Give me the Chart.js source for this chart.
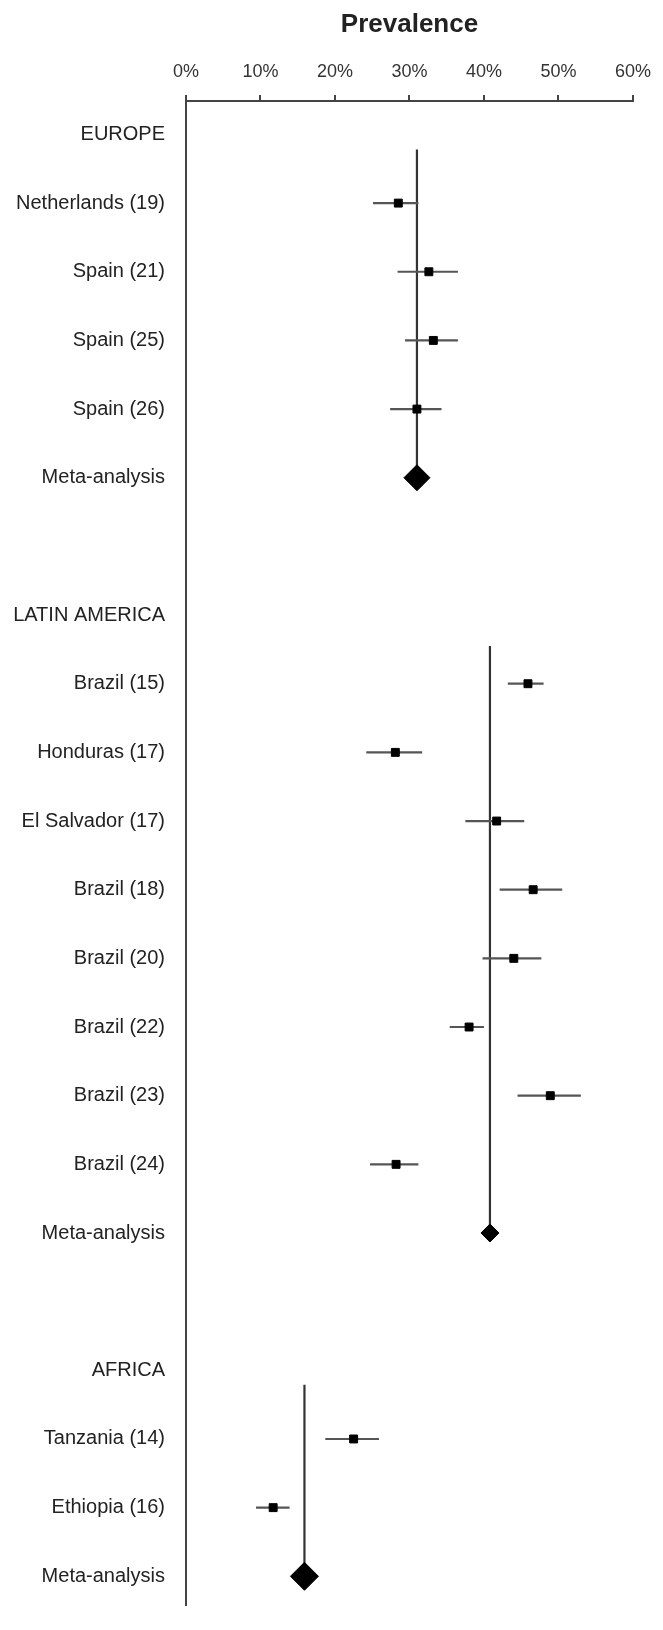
<!DOCTYPE html>
<html>
<head>
<meta charset="utf-8">
<script src="https://cdn.jsdelivr.net/npm/chart.js@4.4.1/dist/chart.umd.min.js"></script>
<style>
	html, body { margin: 0; padding: 0; background: #fff; }
	#wrap { width: 663px; height: 1630px; position: relative; }
</style>
</head>
<body>
<div id="wrap"><canvas id="forest"></canvas></div>
<script>
// regions and meta-analysis estimates (%)
var regions = ['EUROPE', 'LATIN AMERICA', 'AFRICA'];
var metaPrev = [31.0, 40.8, 15.9];

var europeStudies = ['Netherlands (19)', 'Spain (21)', 'Spain (25)', 'Spain (26)'];
var europePrev = [28.5, 32.6, 33.2, 31.0];
var europeLow = [25.1, 28.4, 29.4, 27.4];
var europeHigh = [31.2, 36.5, 36.5, 34.3];

var latinStudies = ['Brazil (15)', 'Honduras (17)', 'El Salvador (17)', 'Brazil (18)', 'Brazil (20)', 'Brazil (22)', 'Brazil (23)', 'Brazil (24)'];
var latinPrev = [45.9, 28.1, 41.7, 46.6, 44.0, 38.0, 48.9, 28.2];
var latinLow = [43.2, 24.2, 37.5, 42.1, 39.8, 35.4, 44.5, 24.7];
var latinHigh = [48.0, 31.7, 45.4, 50.5, 47.7, 40.0, 53.0, 31.2];

var africaStudies = ['Tanzania (14)', 'Ethiopia (16)'];
var africaPrev = [22.5, 11.7];
var africaLow = [18.7, 9.4];
var africaHigh = [25.9, 13.9];

var xTicks = [0, 10, 20, 30, 40, 50, 60];

var groups = [
	{studies: europeStudies, prev: europePrev, low: europeLow, high: europeHigh},
	{studies: latinStudies, prev: latinPrev, low: latinLow, high: latinHigh},
	{studies: africaStudies, prev: africaPrev, low: africaLow, high: africaHigh}
];

// where the vertical meta line starts below each region header (in rows)
var lineStart = [0.22, 0.45, 0.21];
var diamondSize = [13, 9, 14];

var rowLabels = [];
var studyPts = [];
var whiskers = [];
var refLines = [];
var metaPts = [];

regions.forEach(function (name, g)
{
	var head = rowLabels.length;
	rowLabels.push(name);
	var grp = groups[g];
	grp.studies.forEach(function (s, i)
	{
		var row = rowLabels.length;
		rowLabels.push(s);
		studyPts.push({x: grp.prev[i], y: row});
		whiskers.push({x: grp.low[i], y: row}, {x: grp.high[i], y: row}, {x: grp.high[i], y: null});
	});
	var metaRow = rowLabels.length;
	rowLabels.push('Meta-analysis');
	metaPts.push({x: metaPrev[g], y: metaRow});
	refLines.push({x: metaPrev[g], y: head + lineStart[g]}, {x: metaPrev[g], y: metaRow}, {x: metaPrev[g], y: null});
	if (g < regions.length - 1)
		rowLabels.push('');
});

var font = 'Liberation Sans, Arial, Helvetica, sans-serif';

new Chart(document.getElementById('forest'), {
	type: 'scatter',
	data: {
		datasets: [
			{
				label: 'meta',
				data: metaPts,
				pointStyle: 'rectRot',
				pointRadius: diamondSize,
				pointHoverRadius: diamondSize,
				backgroundColor: '#000',
				borderColor: '#000',
				borderWidth: 1
			},
			{
				label: 'studies',
				data: studyPts,
				pointStyle: 'rect',
				pointRadius: 5.6,
				backgroundColor: '#000',
				borderColor: '#000',
				borderWidth: 1
			},
			{
				label: 'ci',
				data: whiskers,
				showLine: true,
				spanGaps: false,
				pointRadius: 0,
				borderColor: '#555',
				borderWidth: 2.2
			},
			{
				label: 'pooled',
				data: refLines,
				showLine: true,
				spanGaps: false,
				pointRadius: 0,
				borderColor: '#333',
				borderWidth: 2.2
			}
		]
	},
	options: {
		responsive: true,
		maintainAspectRatio: false,
		animation: false,
		layout: {padding: {left: 0, right: 25, top: 0, bottom: 0}},
		plugins: {
			legend: {display: false},
			tooltip: {enabled: false},
			title: {display: false}
		},
		scales: {
			x: {
				type: 'linear',
				position: 'top',
				min: 0,
				max: 60,
				afterBuildTicks: function (scale) { scale.ticks = xTicks.map(function (v) { return {value: v}; }); },
				afterFit: function (scale) { scale.height = 101; },
				ticks: {
					callback: function (v) { return v + '%'; },
					color: '#333',
					padding: 12,
					font: {family: font, size: 18}
				},
				grid: {
					display: true,
					drawOnChartArea: false,
					tickLength: 6,
					color: '#444',
					lineWidth: 2
				},
				border: {display: true, color: '#444', width: 2},
				title: {
					display: true,
					text: 'Prevalence',
					color: '#222',
					padding: {top: 9, bottom: 0},
					font: {family: font, size: 26, weight: 'bold'}
				}
			},
			y: {
				type: 'linear',
				reverse: true,
				min: -0.487,
				max: 21.418,
				afterBuildTicks: function (scale) { scale.ticks = rowLabels.map(function (l, i) { return {value: i}; }); },
				afterFit: function (scale) { scale.width = 186; },
				ticks: {
					autoSkip: false,
					callback: function (v) { return rowLabels[v]; },
					color: '#222',
					padding: 13,
					font: {family: font, size: 20}
				},
				grid: {display: false},
				border: {display: true, color: '#444', width: 2}
			}
		}
	}
});
</script>
</body>
</html>
